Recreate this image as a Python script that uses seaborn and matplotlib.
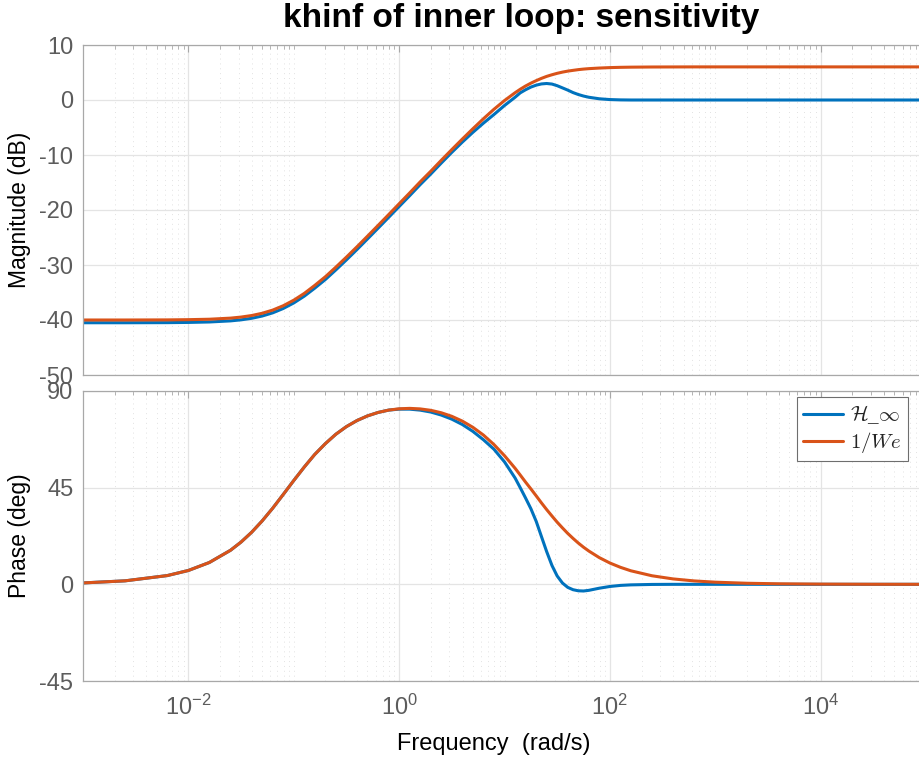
import numpy as np
import pandas as pd
import matplotlib
matplotlib.use("Agg")
import matplotlib.pyplot as plt
import seaborn as sns
from matplotlib.ticker import FixedLocator, FixedFormatter, NullFormatter

# ---------------- data ----------------
freq = [0.001, 0.00251, 0.00631, 0.01, 0.0158, 0.0251, 0.0316, 0.0398, 0.0501, 0.0631,
        0.0794, 0.1, 0.126, 0.158, 0.2, 0.251, 0.316, 0.398, 0.501, 0.631,
        0.794, 1.0, 1.26, 1.58, 2.0, 2.51, 3.16, 3.98, 5.01, 6.31,
        7.94, 10, 12.6, 14.1, 15.8, 17.8, 20, 22.4, 25.1, 28.2,
        31.6, 35.5, 39.8, 44.7, 50.1, 56.2, 63.1, 79.4, 100, 126,
        158, 251, 398, 631, 1000, 2000, 3980, 1e4, 3.16e4, 1e5]

mag_we = [-40.0, -40.0, -39.98, -39.94, -39.86, -39.66, -39.47, -39.19, -38.78, -38.20,
          -37.41, -36.40, -35.16, -33.72, -32.12, -30.39, -28.57, -26.69, -24.76, -22.81,
          -20.85, -18.87, -16.89, -14.91, -12.94, -10.97, -9.02, -7.10, -5.23, -3.41,
          -1.69, -0.10, 1.32, 1.95, 2.53, 3.06, 3.52, 3.93, 4.29, 4.59,
          4.85, 5.07, 5.25, 5.39, 5.52, 5.62, 5.70, 5.81, 5.89, 5.94,
          5.97, 6.00, 6.01, 6.02, 6.02, 6.02, 6.02, 6.02, 6.02, 6.02]

mag_hinf = [-40.5, -40.5, -40.48, -40.44, -40.36, -40.16, -39.97, -39.69, -39.28, -38.70,
            -37.91, -36.90, -35.66, -34.22, -32.62, -30.89, -29.07, -27.19, -25.26, -23.31,
            -21.35, -19.37, -17.39, -15.41, -13.44, -11.47, -9.52, -7.65, -5.88, -4.21,
            -2.64, -1.0, 0.5, 1.3, 1.85, 2.35, 2.7, 2.92, 3.0, 2.9,
            2.6, 2.2, 1.8, 1.35, 1.0, 0.72, 0.5, 0.22, 0.08, 0.02,
            0.0, 0.0, 0.0, 0.0, 0.0, 0.0, 0.0, 0.0, 0.0, 0.0]

phase_we = [0.65, 1.63, 4.08, 6.45, 10.16, 15.85, 19.67, 24.21, 29.50, 35.43,
            41.81, 48.32, 54.64, 60.44, 65.55, 69.88, 73.42, 76.24, 78.41, 80.01,
            81.10, 81.72, 81.91, 81.67, 81.00, 79.87, 78.22, 75.98, 73.09, 69.48,
            65.08, 59.89, 54.03, 50.89, 47.67, 44.43, 41.17, 37.94, 34.82, 31.81,
            28.94, 26.25, 23.72, 21.39, 19.25, 17.29, 15.51, 12.43, 9.93, 7.92,
            6.31, 3.99, 2.52, 1.59, 1.00, 0.50, 0.25, 0.10, 0.03, 0.01]

phase_hinf = [0.65, 1.63, 4.08, 6.45, 10.16, 15.85, 19.67, 24.21, 29.50, 35.43,
              41.81, 48.32, 54.64, 60.44, 65.55, 69.88, 73.42, 76.24, 78.41, 80.01,
              81.10, 81.55, 81.55, 81.1, 80.2, 78.8, 76.9, 74.4, 71.2, 67.3,
              62.9, 57.0, 49.5, 45.0, 40.3, 35.2, 29.3, 22.3, 15.3, 8.8,
              3.9, 0.6, -1.4, -2.5, -3.0, -3.1, -2.8, -1.8, -1.0, -0.5,
              -0.25, -0.05, 0.0, 0.0, 0.0, 0.0, 0.0, 0.0, 0.0, 0.0]

series_names = ["Hinf", "We"]
legend_labels = [r"$\mathcal{H}$_$\infty$", r"$1/We$"]
mag_ticks = [-50, -40, -30, -20, -10, 0, 10]
phase_ticks = [-45, 0, 45, 90]
xtick_major = [1e-2, 1e0, 1e2, 1e4]
xtick_labels = [r"$\mathdefault{10^{-2}}$", r"$\mathdefault{10^{0}}$",
                r"$\mathdefault{10^{2}}$", r"$\mathdefault{10^{4}}$"]

# ---------------- build tables ----------------
df = pd.concat([
    pd.DataFrame({"freq": freq, "mag": mag_hinf, "phase": phase_hinf, "series": "Hinf"}),
    pd.DataFrame({"freq": freq, "mag": mag_we, "phase": phase_we, "series": "We"}),
])

sns.set_theme(style="white")
plt.rcParams["font.family"] = ["Liberation Sans", "DejaVu Sans"]
plt.rcParams["axes.unicode_minus"] = False

BLUE = "#0072BD"
ORANGE = "#D95319"
palette = {"Hinf": BLUE, "We": ORANGE}

W, H = 919, 765
fig = plt.figure(figsize=(W / 100, H / 100), dpi=100)
ax1 = fig.add_axes([83 / W, 1 - 375 / H, 843 / W, 330 / H])
ax2 = fig.add_axes([83 / W, 1 - 681 / H, 843 / W, 290 / H])

for ax, ycol in ((ax1, "mag"), (ax2, "phase")):
    sns.lineplot(data=df, x="freq", y=ycol, hue="series", hue_order=series_names,
                 palette=palette, estimator=None, sort=True, legend=False,
                 linewidth=2.2, ax=ax)

minor_x = [k * 10.0 ** e for e in range(-3, 5) for k in range(1, 10)
           if not any(abs(k * 10.0 ** e - m) < 1e-12 for m in xtick_major)]

for ax in (ax1, ax2):
    ax.set_xscale("log")
    ax.set_xlim(1e-3, 1e5)
    ax.set_facecolor("white")
    ax.xaxis.set_major_locator(FixedLocator(xtick_major))
    ax.xaxis.set_minor_locator(FixedLocator(minor_x))
    ax.xaxis.set_minor_formatter(NullFormatter())
    for s in ax.spines.values():
        s.set_color("#a8a8a8")
        s.set_linewidth(0.9)
    ax.tick_params(which="both", direction="in", top=True, right=True,
                   color="#a8a8a8", labelcolor="#5c5c5c", labelsize=17)
    ax.tick_params(which="major", length=5, width=0.8, pad=7)
    ax.tick_params(which="minor", length=3, width=0.6)
    ax.grid(True, which="major", color="#e4e4e4", linewidth=0.9, linestyle="-")
    ax.grid(True, which="minor", axis="x", color="#e2e2e2", linewidth=0.7,
            linestyle=(0, (1, 4)))
    ax.set_axisbelow(True)

ax1.set_ylim(-50, 10)
ax1.set_yticks(mag_ticks)
ax1.set_yticklabels([str(t) for t in mag_ticks])
ax1.xaxis.set_major_formatter(NullFormatter())
ax1.set_xlabel("")
ax1.set_ylabel("Magnitude (dB)", fontsize=16.5, color="black")
ax1.yaxis.set_label_coords(-0.062, 0.5)

ax2.set_ylim(-45, 90)
ax2.set_yticks(phase_ticks)
ax2.set_yticklabels([str(t) for t in phase_ticks])
ax2.xaxis.set_major_formatter(FixedFormatter(xtick_labels))
ax2.tick_params(axis="x", which="major", pad=10)
ax2.set_ylabel("Phase (deg)", fontsize=16.5, color="black")
ax2.yaxis.set_label_coords(-0.062, 0.5)
ax2.set_xlabel("Frequency  (rad/s)", fontsize=17, color="black")
ax2.xaxis.set_label_coords((494 - 83) / 843, -0.18)

handles = ax2.get_lines()[:2]
leg = ax2.legend(handles, legend_labels, loc="upper right",
                 bbox_to_anchor=((908 - 83) / 843, (681 - 397) / 290),
                 borderaxespad=0, frameon=True, fancybox=False, framealpha=1,
                 handlelength=1.9, handletextpad=0.35,
                 borderpad=0.3, labelspacing=0.2,
                 prop={"family": ["Liberation Serif", "DejaVu Serif"], "size": 15})
leg.get_frame().set_edgecolor("#6e6e6e")
leg.get_frame().set_linewidth(0.8)
for t in leg.get_texts():
    t.set_math_fontfamily("cm")

fig.text(521 / W, 1 - 18 / H, "khinf of inner loop: sensitivity",
         ha="center", va="center", fontsize=24, fontweight="bold", color="black")

fig.savefig("out.png", dpi=100, facecolor="white")
